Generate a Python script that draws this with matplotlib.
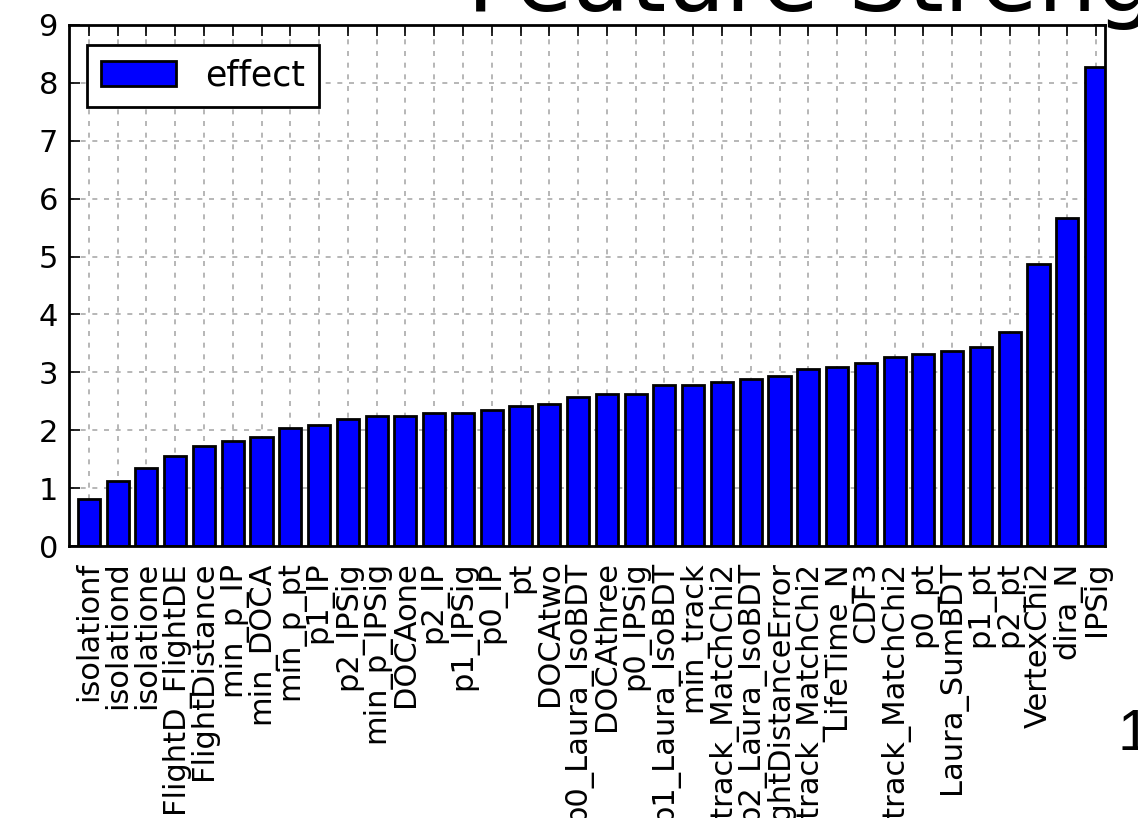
#!/usr/bin/env python3
"""
plot.py - feature strength bar chart (effect per feature)
"""

import matplotlib
matplotlib.use("Agg")
import matplotlib.pyplot as plt
import numpy as np

features = [
    "isolationf", "isolationd", "isolatione", "FlightD_FlightDE", "FlightDistance",
    "min_p_IP", "min_DOCA", "min_p_pt", "p1_IP", "p2_IPSig", "min_p_IPSig",
    "DOCAone", "p2_IP", "p1_IPSig", "p0_IP", "pt", "DOCAtwo", "p0_Laura_IsoBDT",
    "DOCAthree", "p0_IPSig", "p1_Laura_IsoBDT", "min_track", "p0_track_MatchChi2",
    "p2_Laura_IsoBDT", "FlightDistanceError", "p1_track_MatchChi2", "LifeTime_N",
    "CDF3", "p2_track_MatchChi2", "p0_pt", "Laura_SumBDT", "p1_pt", "p2_pt",
    "VertexChi2", "dira_N", "IPSig",
]
effect = [
    0.81, 1.13, 1.34, 1.56, 1.72, 1.82, 1.88, 2.04, 2.09, 2.19, 2.25,
    2.25, 2.30, 2.30, 2.35, 2.41, 2.46, 2.58, 2.63, 2.63, 2.78, 2.78,
    2.83, 2.89, 2.94, 3.05, 3.10, 3.16, 3.26, 3.32, 3.37, 3.43, 3.69,
    4.87, 5.67, 8.28,
]
y_ticks = list(range(0, 10))


def plot_effect():
    fig = plt.figure(figsize=(11.38, 8.18), dpi=100)
    ax = fig.add_axes([69 / 1138, 1 - 546 / 818, 1036 / 1138, 521 / 818])

    x = np.arange(len(features))
    ax.bar(x, effect, width=0.77, color="#0000ff", edgecolor="black",
           linewidth=2.0, label="effect", zorder=2)

    ax.set_xlim(-0.69, len(features) - 0.69)
    ax.set_ylim(0, 9)
    ax.set_yticks(y_ticks)
    ax.set_xticks(x)
    ax.set_xticklabels(features, rotation=90, fontsize=22)
    ax.tick_params(axis="y", labelsize=22)

    ax.tick_params(direction="in", top=True, right=True, length=8, width=1.2)
    ax.tick_params(axis="x", pad=11)
    ax.tick_params(axis="y", pad=8)
    for sp in ax.spines.values():
        sp.set_linewidth(2)
        sp.set_zorder(3)

    ax.grid(True, color="#aaaaaa", linestyle=(0, (3, 4)), linewidth=1.2, zorder=0)
    ax.set_axisbelow(True)

    leg = ax.legend(loc="upper left", bbox_to_anchor=(18 / 1036, 1 - 20 / 521),
                    borderaxespad=0, fontsize=25, fancybox=False, shadow=False,
                    handlelength=2.15, handleheight=0.72, handletextpad=0.85,
                    borderpad=0.4, framealpha=1)
    leg.get_frame().set_edgecolor("black")
    leg.get_frame().set_linewidth(2)
    leg.legend_handles[0].set_linewidth(2)

    # slide leftovers: cropped heading and page number
    fig.text(467 / 1138, 1 - 11 / 818, "Feature Strength", fontsize=67,
             va="baseline", ha="left")
    fig.text(1118 / 1138, 1 - 750 / 818, "1", fontsize=42,
             family="Liberation Sans", va="baseline", ha="left")

    fig.savefig("out.png", dpi=100)
    print("[*] Saved plot to out.png")


def main():
    plot_effect()


if __name__ == "__main__":
    main()
